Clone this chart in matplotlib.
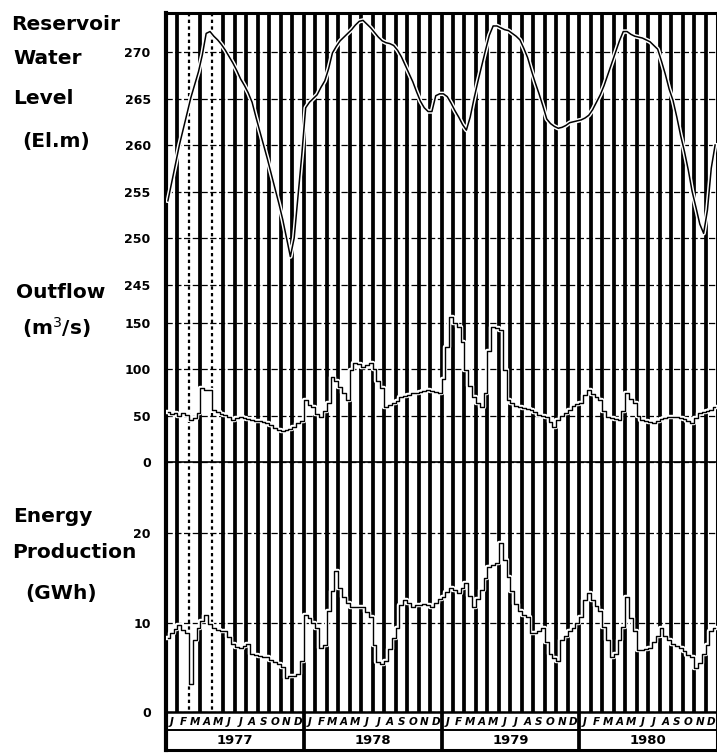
import matplotlib
matplotlib.use("Agg")
import matplotlib.pyplot as plt
import matplotlib.patheffects as pe
import numpy as np

# ---- data: ten-day (dekad) values, Jan 1977 - Dec 1980 ----
years = ["1977", "1978", "1979", "1980"]
month_letters = ["J", "F", "M", "A", "M", "J", "J", "A", "S", "O", "N", "D"]

level_1977 = [254.0, 256.0, 258.0, 260.0, 261.7, 263.4, 265.1, 266.5, 267.9,
              269.7, 272.0, 272.2, 271.7, 271.3, 270.8, 270.2, 269.5, 268.8,
              268.0, 267.1, 266.4, 265.6, 264.6, 263.0, 261.5, 260.0, 258.5,
              256.9, 255.3, 253.7, 252.0, 250.0, 248.0, 250.0, 254.5, 259.0]
level_1978 = [264.0, 264.6, 265.0, 265.4, 266.2, 266.9, 268.2, 269.9, 270.6,
              271.2, 271.6, 272.0, 272.4, 272.9, 273.3, 273.4, 273.0, 272.6,
              272.1, 271.6, 271.2, 271.0, 270.9, 270.7, 270.2, 269.5, 268.6,
              267.7, 266.8, 265.7, 264.7, 264.0, 263.6, 263.6, 265.3, 265.5]
level_1979 = [265.5, 265.2, 264.5, 263.7, 263.0, 262.2, 261.6, 263.0, 265.0,
              266.8, 268.5, 270.2, 271.8, 272.8, 272.8, 272.6, 272.4, 272.3,
              272.0, 271.7, 271.3, 270.4, 269.4, 268.0, 266.7, 265.5, 264.2,
              262.8, 262.3, 262.0, 261.8, 261.9, 262.1, 262.4, 262.5, 262.6]
level_1980 = [262.7, 262.9, 263.2, 263.8, 264.6, 265.4, 266.4, 267.6, 268.8,
              270.0, 271.2, 272.2, 272.2, 271.9, 271.7, 271.6, 271.5, 271.3,
              271.1, 270.7, 270.3, 269.0, 267.6, 266.0, 264.8, 263.0, 261.0,
              259.3, 257.3, 255.0, 253.3, 251.5, 250.5, 253.0, 257.5, 260.0]

outflow_1977 = [54, 52, 53, 50, 53, 51, 45, 47, 53, 80, 78, 78, 56, 54, 52,
                51, 49, 45, 47, 49, 48, 46, 45, 44, 44, 43, 42, 40, 37, 35,
                34, 35, 36, 38, 42, 44]
outflow_1978 = [67, 62, 59, 52, 49, 55, 64, 92, 88, 81, 75, 67, 99, 107, 106,
                103, 105, 107, 100, 88, 80, 59, 62, 64, 66, 70, 71, 72, 74, 75,
                76, 77, 78, 77, 76, 74]
outflow_1979 = [90, 124, 157, 150, 146, 130, 99, 82, 70, 64, 59, 75, 120, 146,
                145, 143, 99, 67, 64, 60, 59, 58, 57, 56, 54, 51, 50, 49, 43,
                38, 45, 50, 53, 56, 60, 63]
outflow_1980 = [64, 72, 78, 73, 70, 67, 55, 49, 47, 46, 45, 55, 74, 68, 64,
                50, 45, 44, 43, 42, 44, 46, 48, 49, 49, 49, 48, 46, 44, 42,
                48, 53, 54, 55, 56, 59]

energy_1977 = [8.3, 8.8, 9.3, 9.7, 9.2, 8.8, 3.1, 8.0, 9.4, 10.2, 10.8, 9.8,
               9.4, 9.2, 9.1, 9.1, 8.4, 7.6, 7.3, 7.2, 7.4, 7.6, 6.5, 6.4,
               6.3, 6.2, 6.1, 5.8, 5.6, 5.4, 5.0, 3.8, 4.0, 4.0, 4.3, 5.7]
energy_1978 = [10.8, 10.5, 10.0, 9.4, 7.2, 7.5, 11.3, 13.5, 15.8, 13.8, 12.8,
               12.2, 11.7, 11.7, 11.7, 11.7, 11.2, 10.6, 7.5, 5.6, 5.4, 5.7,
               7.0, 8.3, 9.4, 12.0, 12.5, 12.2, 11.7, 11.9, 12.0, 12.1, 11.9,
               11.7, 12.2, 12.6]
energy_1979 = [12.8, 13.4, 13.9, 13.6, 13.3, 13.8, 14.4, 13.0, 11.7, 12.6,
               13.6, 15.0, 16.2, 16.4, 16.6, 18.9, 17.0, 15.1, 13.5, 12.1,
               11.3, 10.8, 10.6, 8.8, 8.8, 9.1, 9.4, 7.8, 6.5, 6.0, 5.7, 8.0,
               8.5, 9.0, 9.4, 10.0]
energy_1980 = [10.6, 12.5, 13.3, 12.5, 11.8, 11.3, 9.5, 8.0, 6.1, 6.5, 8.0,
               9.5, 12.8, 10.5, 9.0, 6.9, 6.9, 7.0, 7.2, 7.8, 8.5, 9.4, 8.5,
               8.0, 7.6, 7.4, 7.2, 6.8, 6.4, 6.1, 4.9, 5.5, 6.5, 7.5, 9.0, 9.4]

level_ticks = [245, 250, 255, 260, 265, 270]
outflow_ticks = [0, 50, 100, 150]
energy_ticks = [0, 10, 20]

level = np.concatenate([level_1977, level_1978, level_1979, level_1980])
outflow = np.concatenate([outflow_1977, outflow_1978, outflow_1979, outflow_1980])
energy = np.concatenate([energy_1977, energy_1978, energy_1979, energy_1980])
t = (np.arange(level.size) + 0.5) / 3.0          # time in months
n_months = 12 * len(years)

# ---- layout (pixel based) ----
W, H = 717, 755
fig = plt.figure(figsize=(W / 100, H / 100), dpi=100)
fig.patch.set_facecolor("white")


def rect(x0, y0, x1, y1):
    return [x0 / W, 1 - y1 / H, (x1 - x0) / W, (y1 - y0) / H]


X0, X1 = 166, 717
TOP, PLOT_BOT, MONTH_BOT, YEAR_BOT = 13, 712, 730, 750

# background frame with month bars and the calendar strip
bg = fig.add_axes(rect(X0, TOP, X1, YEAR_BOT))
bg.set_xlim(0, n_months)
bg.set_ylim(YEAR_BOT, TOP)
bg.set_xticks([])
bg.set_yticks([])
for s in bg.spines.values():
    s.set_linewidth(2.2)
bg.spines["left"].set_linewidth(3.0)

for m in range(1, n_months):
    if m % 12 == 0:
        continue
    if m in (2, 4):
        bg.vlines(m, TOP, PLOT_BOT, colors="k", lw=1.6, linestyles=(0, (1.5, 1.5)))
    else:
        bg.vlines(m, TOP, PLOT_BOT, colors="k", lw=2.7)
for m in (12, 24, 36):
    bg.vlines(m, TOP, YEAR_BOT, colors="k", lw=2.7)
bg.hlines([PLOT_BOT], 0, n_months, colors="k", lw=1.8)
bg.hlines([MONTH_BOT], 0, n_months, colors="k", lw=1.4)

for m in range(n_months):
    bg.text(m + 0.5, (PLOT_BOT + MONTH_BOT) / 2 + 1, month_letters[m % 12],
            ha="center", va="center", fontsize=7.5, fontweight="bold",
            style="italic")
for i, y in enumerate(years):
    bg.text(12 * i + 6, (MONTH_BOT + YEAR_BOT) / 2 + 1, y, ha="center",
            va="center", fontsize=9.5, fontweight="bold")

halo = [pe.withStroke(linewidth=3.2, foreground="white")]


def panel(y0, y1, vmin, vmax, ticks):
    ax = fig.add_axes(rect(X0, y0, X1, y1))
    ax.patch.set_alpha(0)
    ax.set_xlim(0, n_months)
    ax.set_ylim(vmin, vmax)
    ax.set_xticks([])
    ax.set_yticks(ticks)
    ax.set_yticklabels([str(v) for v in ticks], fontsize=9, fontweight="bold")
    ax.tick_params(axis="y", length=0, pad=11)
    for s in ax.spines.values():
        s.set_visible(False)
    for v in ticks:
        ax.axhline(v, color="k", lw=0.9, ls=(0, (5, 2)), zorder=1)
    return ax


# water level: 270 m at y=52 px, 9.3 px per metre
ax_w = panel(TOP, 300, 270 - (300 - 52) / 9.3, 270 + (52 - TOP) / 9.3, level_ticks)
ax_w.plot(t, level, color="k", lw=1.1, path_effects=halo, zorder=3)

# outflow: 0 at y=462 px, 0.926 px per m3/s
ax_q = panel(300, 480, -(480 - 462) / 0.926, (462 - 300) / 0.926, outflow_ticks)
ax_q.axhline(0, color="k", lw=1.2, zorder=1)
ax_q.plot(t, outflow, color="k", lw=1.0, drawstyle="steps-mid",
          path_effects=halo, zorder=3)

# energy: 0 at y=712 px, 8.95 px per GWh
ax_e = panel(480, PLOT_BOT, 0, (PLOT_BOT - 480) / 8.95, energy_ticks)
ax_e.plot(t, energy, color="k", lw=1.0, drawstyle="steps-mid",
          path_effects=halo, zorder=3)

# axis titles on the left
title_kw = dict(fontsize=14.5, fontweight="bold", ha="left", va="center")
for txt, x, y in [("Reservoir", 11, 24), ("Water", 13, 58), ("Level", 13, 98),
                  ("(El.m)", 22, 141), ("Outflow", 16, 292),
                  ("(m$^3$/s)", 22, 328), ("Energy", 13, 517),
                  ("Production", 12, 552), ("(GWh)", 25, 593)]:
    fig.text(x / W, 1 - y / H, txt, **title_kw)

fig.savefig("out.png", dpi=100, facecolor="white")
